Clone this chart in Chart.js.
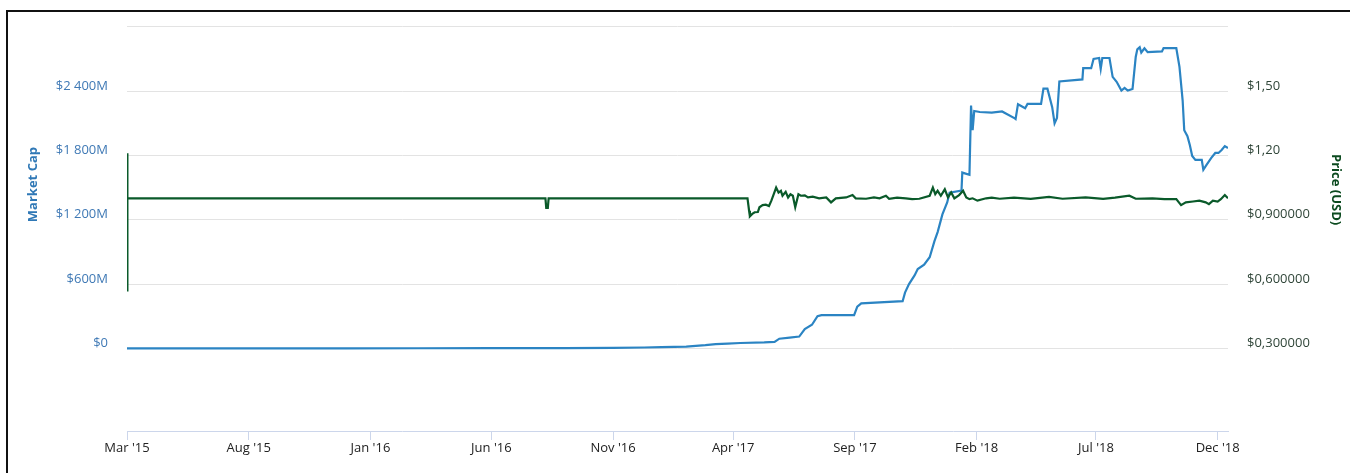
<!DOCTYPE html>
<html><head><meta charset="utf-8">
<script src="https://cdn.jsdelivr.net/npm/chart.js@4.4.1/dist/chart.umd.min.js"></script>
<style>
html,body{margin:0;padding:0;background:#fff;}
#wrap{position:relative;width:1350px;height:473px;overflow:hidden;}
#frame{position:absolute;left:6px;top:10px;width:1400px;height:500px;border-left:2px solid #111;border-top:2px solid #111;}
canvas{position:absolute;left:0;top:0;}
</style></head><body>
<div id="wrap"><canvas id="c" width="1350" height="473"></canvas><div id="frame"></div></div>
<script>
// ---- DATA ----
// Market cap, USD millions
const capDates = ['2015-03-01','2015-06-01','2015-09-01','2015-12-01','2016-03-01','2016-06-01','2016-09-01','2016-11-01','2016-12-10','2017-01-01','2017-02-01','2017-02-25','2017-03-10','2017-03-25','2017-04-10','2017-05-10',
'2017-05-23','2017-05-29','2017-06-11','2017-06-23','2017-06-30','2017-07-09','2017-07-16','2017-07-21','2017-08-31','2017-09-04','2017-09-09','2017-10-31',
'2017-11-03','2017-11-08','2017-11-15','2017-11-19','2017-11-27','2017-12-04','2017-12-10','2017-12-14','2017-12-20','2017-12-26','2017-12-29','2018-01-13','2018-01-14','2018-01-23',
'2018-01-25','2018-01-27','2018-01-29','2018-02-05','2018-02-20','2018-03-05','2018-03-21','2018-03-22','2018-03-25','2018-04-03','2018-04-06','2018-04-23','2018-04-26','2018-05-01','2018-05-07','2018-05-10','2018-05-13','2018-05-16',
'2018-06-14','2018-06-15','2018-06-25','2018-06-28','2018-07-05','2018-07-07','2018-07-09','2018-07-18','2018-07-22','2018-07-27','2018-08-02','2018-08-06','2018-08-10','2018-08-16','2018-08-20','2018-08-22','2018-08-25','2018-08-27','2018-08-31','2018-09-04',
'2018-09-22','2018-09-24','2018-10-10','2018-10-14','2018-10-18','2018-10-20','2018-10-24','2018-10-27','2018-10-30','2018-11-03','2018-11-11','2018-11-13','2018-11-17','2018-11-23','2018-11-28','2018-12-02','2018-12-06','2018-12-10','2018-12-14'];
const capValues = [0.25,0.3,0.4,0.6,1.0,2.0,3.0,5.0,8,11,16,30,40,45,50,55,
60,90,100,110,180,220,300,310,310,390,420,440,
520,600,680,740,780,850,1000,1085,1250,1361,1453,1472,1640,1620,
2265,2035,2215,2205,2200,2210,2146,2140,2278,2240,2280,2280,2423,2423,2250,2100,2150,2490,
2509,2614,2614,2700,2709,2608,2709,2709,2533,2487,2405,2430,2405,2420,2718,2790,2810,2760,2800,2764,
2770,2801,2801,2626,2312,2035,1980,1897,1795,1758,1758,1666,1712,1777,1823,1823,1851,1887,1869];

// Price, USD
const priceDates = ['2015-03-01','2015-03-01','2015-03-02','2016-08-08','2016-08-09','2016-08-11','2016-08-12','2017-04-19',
'2017-04-21','2017-04-22','2017-04-25','2017-04-28','2017-05-02','2017-05-04','2017-05-08','2017-05-12','2017-05-16','2017-05-19','2017-05-22','2017-05-25','2017-05-28','2017-05-31',
'2017-06-02','2017-06-06','2017-06-09','2017-06-12','2017-06-15','2017-06-18','2017-06-22','2017-06-25','2017-06-30','2017-07-04','2017-07-10','2017-07-18','2017-07-27',
'2017-08-02','2017-08-08','2017-08-21','2017-08-29','2017-09-02','2017-09-15','2017-09-25','2017-10-02','2017-10-10','2017-10-14','2017-10-24','2017-11-04','2017-11-12','2017-11-21',
'2017-12-04','2017-12-08','2017-12-11','2017-12-14','2017-12-18','2017-12-23','2017-12-27','2017-12-31','2018-01-04','2018-01-10','2018-01-15','2018-01-19','2018-01-23','2018-01-27','2018-02-02','2018-02-13',
'2018-02-20','2018-03-02','2018-03-20','2018-04-10','2018-05-03','2018-05-20','2018-06-18','2018-07-10','2018-07-25','2018-08-12','2018-08-20','2018-09-10','2018-09-25','2018-10-10','2018-10-16','2018-10-22','2018-10-31','2018-11-08','2018-11-16','2018-11-20','2018-11-25','2018-12-01','2018-12-05','2018-12-10','2018-12-14'];
const priceValues = [1.21,0.565,1.0,1.0,0.955,0.955,1.0,1.0,
0.942,0.916,0.927,0.935,0.936,0.958,0.968,0.970,0.964,0.989,1.019,1.05,1.027,1.035,
1.012,1.03,1.004,1.019,1.012,0.958,1.019,1.012,1.014,1.004,1.008,1.0,1.004,
0.981,1.0,1.004,1.015,1.0,0.998,1.004,1.0,1.012,0.998,1.003,1.0,0.996,0.998,
1.012,1.05,1.019,1.035,1.012,1.042,1.004,1.027,1.0,1.015,1.035,1.004,0.996,1.0,0.989,1.0,
1.003,0.998,1.003,0.997,1.007,0.998,1.004,0.997,1.003,1.012,0.998,1.0,0.996,0.996,0.968,0.981,0.985,0.989,0.981,0.973,0.989,0.985,0.996,1.015,1.0];

const xTickDates = ['2015-03-01','2015-08-01','2016-01-01','2016-06-01','2016-11-01','2017-04-01','2017-09-01','2018-02-01','2018-07-01','2018-12-01'];
const xTickLabels = ["Mar '15","Aug '15","Jan '16","Jun '16","Nov '16","Apr '17","Sep '17","Feb '18","Jul '18","Dec '18"];
const capTicks = [0,600,1200,1800,2400,3000];
const capTickLabels = ['$0','$600M','$1 200M','$1 800M','$2 400M',''];
const priceTicks = [0.3,0.6,0.9,1.2,1.5,1.8];
const priceTickLabels = ['$0,300000','$0,600000','$0,900000','$1,20','$1,50',''];

// ---- BUILD ----
const T0 = Date.parse('2015-03-01');
const dayOf = s => (Date.parse(s) - T0) / 86400000;
const capData = capDates.map((d,i)=>({x:dayOf(d), y:capValues[i]}));
const priceData = priceDates.map((d,i)=>({x:dayOf(d), y:priceValues[i]}));
const xTicks = xTickDates.map(dayOf);
const xMax = Math.max(dayOf(capDates[capDates.length-1]), dayOf(priceDates[priceDates.length-1]));

const FONT = '"Open Sans", "DejaVu Sans", sans-serif';

const axisTitles = {
  id:'axisTitles',
  afterDraw(chart){
    const ctx = chart.ctx;
    const yl = chart.scales.yCap, yr = chart.scales.yPrice;
    const midL = (yl.getPixelForValue(capTicks[0]) + yl.getPixelForValue(capTicks[capTicks.length-1]))/2;
    const midR = (yr.getPixelForValue(priceTicks[0]) + yr.getPixelForValue(priceTicks[priceTicks.length-1]))/2;
    ctx.save();
    ctx.font = 'bold 13px ' + FONT;
    ctx.textAlign = 'center'; ctx.textBaseline = 'middle';
    ctx.fillStyle = '#2f78b6';
    ctx.translate(yl.left + 33, midL - 3); ctx.rotate(-Math.PI/2);
    ctx.fillText('Market Cap', 0, 0);
    ctx.restore();
    ctx.save();
    ctx.font = 'bold 13px ' + FONT;
    ctx.textAlign = 'center'; ctx.textBaseline = 'middle';
    ctx.fillStyle = '#0b4a1f';
    ctx.translate(yr.right - 14, midR + 2); ctx.rotate(Math.PI/2);
    ctx.fillText('Price (USD)', 0, 0);
    ctx.restore();
  }
};

new Chart(document.getElementById('c'), {
  type:'line',
  data:{datasets:[
    {label:'Price (USD)', data:priceData, yAxisID:'yPrice', borderColor:'#0a5a2a', borderWidth:2.2, pointRadius:0, tension:0, order:0},
    {label:'Market Cap', data:capData, yAxisID:'yCap', borderColor:'#2b84c3', borderWidth:2.2, pointRadius:0, tension:0, order:1}
  ]},
  options:{
    responsive:false, animation:false, devicePixelRatio:1,
    layout:{padding:{top:22,left:0,right:0,bottom:0}},
    plugins:{legend:{display:false}, tooltip:{enabled:false}},
    scales:{
      x:{type:'linear', min:0, max:xMax,
        afterBuildTicks(s){ s.ticks = xTicks.map(v=>({value:v})); },
        afterFit(s){ s.height = 42; },
        ticks:{autoSkip:false, maxRotation:0, padding:0, color:'#222', font:{family:FONT, size:13},
          callback(v){ const i = xTicks.indexOf(v); return i>=0 ? xTickLabels[i] : ''; }},
        grid:{display:true, drawOnChartArea:false, drawTicks:true, tickLength:9, color:'#ccd6eb'},
        border:{display:true, color:'#ccd6eb', width:1}
      },
      yCap:{type:'linear', position:'left', min:-771, max:3000,
        afterBuildTicks(s){ s.ticks = capTicks.map(v=>({value:v})); },
        afterFit(s){ s.width = 127; },
        ticks:{padding:19, labelOffset:-5, color:'#3f79b5', font:{family:FONT, size:13},
          callback(v){ const i = capTicks.indexOf(v); return i>=0 ? capTickLabels[i] : ''; }},
        grid:{color:'#e3e3e3', drawTicks:false},
        border:{display:false}
      },
      yPrice:{type:'linear', position:'right', min:-0.0854, max:1.8,
        afterBuildTicks(s){ s.ticks = priceTicks.map(v=>({value:v})); },
        afterFit(s){ s.width = 122; },
        ticks:{padding:19, labelOffset:-5, color:'#2f4538', font:{family:FONT, size:13},
          callback(v){ const i = priceTicks.indexOf(v); return i>=0 ? priceTickLabels[i] : ''; }},
        grid:{display:false, drawTicks:false},
        border:{display:false}
      }
    }
  },
  plugins:[axisTitles]
});
</script>
</body></html>
